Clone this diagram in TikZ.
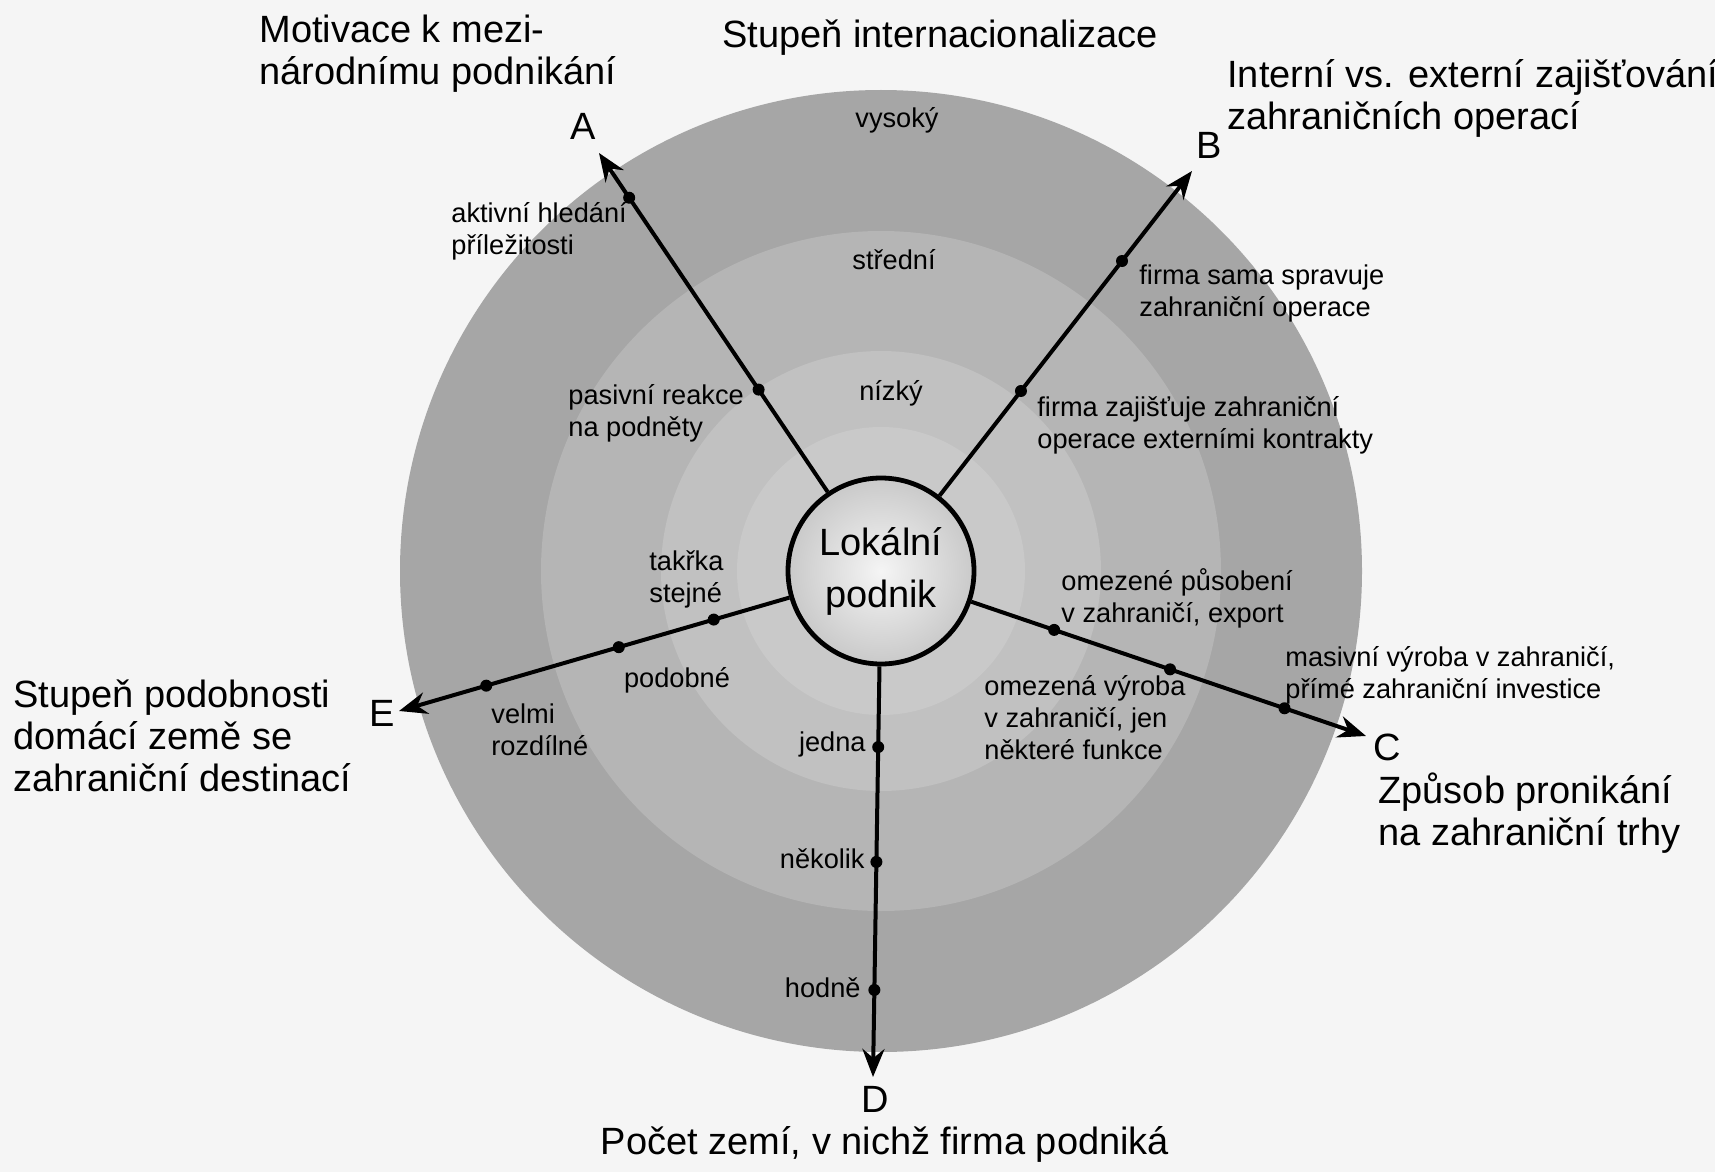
\documentclass[tikz,border=0pt]{standalone}
\usepackage{fontspec}
\setmainfont{Liberation Sans}
\usetikzlibrary{arrows.meta,calc}
\definecolor{paper}{gray}{0.96}
\definecolor{ringA}{gray}{0.65}
\definecolor{ringB}{gray}{0.71}
\definecolor{ringC}{gray}{0.755}
\definecolor{ringD}{gray}{0.79}
\tikzstyle{spoke} = [line width=2pt,-{Stealth[length=14pt,width=11pt]}]
\tikzstyle{dot} = [circle,fill=black,inner sep=0pt,minimum size=6pt]
\tikzstyle{big} = [font=\fontsize{19}{21}\selectfont,align=left,inner sep=0pt]
\tikzstyle{small} = [font=\fontsize{13.6}{16}\selectfont,align=left,inner sep=0pt]

\begin{document}
\begin{tikzpicture}[x=0.5pt,y=-0.5pt]
  \useasboundingbox (0,0) rectangle (1715,1172);
  \fill[paper] (0,0) rectangle (1715,1172);

  % rings of the degree of internationalisation
  \fill[ringA] (881,571) circle[radius=240.5pt];
  \fill[ringB] (881,571) circle[radius=170pt];
  \fill[ringC] (881,571) circle[radius=110pt];
  \fill[ringD] (881,571) circle[radius=72pt];

  \node[draw,circle,line width=2.4pt,minimum size=93pt,inner sep=0pt,
        inner color=gray!8,outer color=ringD,align=center,
        font=\fontsize{19}{26}\selectfont] (firm) at (881,571) {Lokální\\podnik};

  \coordinate (tipA) at (599,153);
  \coordinate (tipB) at (1192,171);
  \coordinate (tipC) at (1366,736);
  \coordinate (tipD) at (873,1077);
  \coordinate (tipE) at (399,711);

  \draw[spoke] (firm) -- (tipA);
  \draw[spoke] (firm) -- (tipB);
  \draw[spoke] (firm) -- (tipC);
  \draw[spoke] (firm) -- (tipD);
  \draw[spoke] (firm) -- (tipE);

  \node[dot] (a1) at ($(firm.center)!.434!(tipA)$) {};
  \node[dot] (a2) at ($(firm.center)!.893!(tipA)$) {};
  \node[dot] (b1) at ($(firm.center)!.45!(tipB)$) {};
  \node[dot] (b2) at ($(firm.center)!.775!(tipB)$) {};
  \node[dot] (c1) at ($(firm.center)!.357!(tipC)$) {};
  \node[dot] (c2) at ($(firm.center)!.596!(tipC)$) {};
  \node[dot] (c3) at ($(firm.center)!.832!(tipC)$) {};
  \node[dot] (d1) at ($(firm.center)!.348!(tipD)$) {};
  \node[dot] (d2) at ($(firm.center)!.575!(tipD)$) {};
  \node[dot] (d3) at ($(firm.center)!.828!(tipD)$) {};
  \node[dot] (e1) at ($(firm.center)!.347!(tipE)$) {};
  \node[dot] (e2) at ($(firm.center)!.544!(tipE)$) {};
  \node[dot] (e3) at ($(firm.center)!.819!(tipE)$) {};

  % axis letters and titles
  \node[big] (letA) at (583,126) {A};
  \node[big] (letB) at (1209,145) {B};
  \node[big] (letC) at (1387,747) {C};
  \node[big] (letD) at (875,1099) {D};
  \node[big] (letE) at (382,713) {E};

  \node[big,anchor=west] (motiv) at (259,54) {Motivace k mezi-\\národnímu podnikání};
  \node[big] (degree) at (940,38) {Stupeň internacionalizace};
  \node[big,anchor=west] (intext) at (1227,98) {Interní vs. externí zajišťování\\zahraničních operací};
  \node[big,anchor=west] (entry) at (1378,813) {Způsob pronikání\\na zahraniční trhy};
  \node[big] (count) at (885,1144) {Počet zemí, v nichž firma podniká};
  \node[big,anchor=west] (simil) at (13,736) {Stupeň podobnosti\\domácí země se\\zahraniční destinací};

  % values along the axes
  \node[small] (high) at (897,120) {vysoký};
  \node[small] (mid) at (894,260) {střední};
  \node[small] (low) at (891,393) {nízký};
  \node[small,anchor=west] (active) at (451,231) {aktivní hledání\\příležitosti};
  \node[small,anchor=west] (passive) at (568,413) {pasivní reakce\\na podněty};
  \node[small,anchor=west] (own) at (1139,293) {firma sama spravuje\\zahraniční operace};
  \node[small,anchor=west] (extern) at (1037,425) {firma zajišťuje zahraniční\\operace externími kontrakty};
  \node[small,anchor=west] (export) at (1061,598) {omezené působení\\v zahraničí, export};
  \node[small,anchor=west] (fdi) at (1285,675) {masivní výroba v zahraničí,\\přímé zahraniční investice};
  \node[small,anchor=west] (partial) at (984,718) {omezená výroba\\v zahraničí, jen\\některé funkce};
  \node[small,anchor=east] (one) at (866,744) {jedna};
  \node[small,anchor=east] (several) at (865,859) {několik};
  \node[small,anchor=east] (many) at (861,988) {hodně};
  \node[small,anchor=west] (same) at (649,579) {takřka\\stejné};
  \node[small] (alike) at (677,680) {podobné};
  \node[small,anchor=west] (differ) at (491,730) {velmi\\rozdílné};
\end{tikzpicture}
\end{document}
